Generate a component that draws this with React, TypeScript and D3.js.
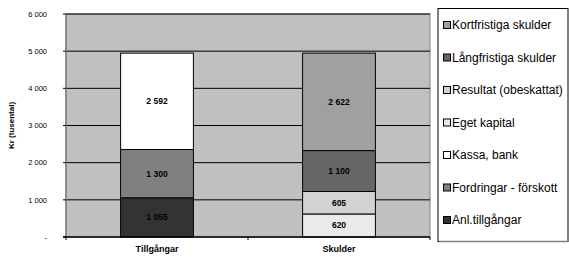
import React from "react";
import * as d3 from "d3";

const categories = ["Tillgångar", "Skulder"];
const seriesNames = [
  "Anl.tillgångar",
  "Fordringar - förskott",
  "Kassa, bank",
  "Eget kapital",
  "Resultat (obeskattat)",
  "Långfristiga skulder",
  "Kortfristiga skulder",
];
const tillgangarValues = [1055, 1300, 2592, 0, 0, 0, 0];
const skulderValues = [0, 0, 0, 620, 605, 1100, 2622];
const seriesColors = ["#333333", "#808080", "#FFFFFF", "#EAEAEA", "#D2D2D2", "#666666", "#A0A0A0"];
const yTicks = [0, 1000, 2000, 3000, 4000, 5000, 6000];

const W = 569, H = 257;
const plot = { left: 66, right: 430, top: 14, bottom: 237 };
const font = "Liberation Sans, Arial, sans-serif";

export default function App() {
  const x = d3.scaleBand<string>().domain(categories).range([plot.left, plot.right]).paddingInner(0).paddingOuter(0);
  const y = d3.scaleLinear().domain([0, 6000]).range([plot.bottom, plot.top]);
  const barW = x.bandwidth() * 0.4;
  const fmt = (v: number) => (v === 0 ? "-" : d3.format(",")(v).replace(/,/g, " "));

  const rows = categories.map((c, i) => {
    const vals = i === 0 ? tillgangarValues : skulderValues;
    const o: any = { cat: c };
    seriesNames.forEach((s, j) => (o[s] = vals[j]));
    return o;
  });
  const stacked = d3.stack<any>().keys(seriesNames)(rows);

  const legendOrder = [...seriesNames].reverse();

  return (
    <svg width={W} height={H} style={{ position: "absolute", left: 0, top: 0, background: "#fff" }} fontFamily={font}>
      <rect x={plot.left} y={plot.top} width={plot.right - plot.left} height={plot.bottom - plot.top} fill="#C0C0C0" stroke="#808080" strokeWidth={1} />
      {yTicks.slice(1).map((t) => (
        <line key={t} x1={plot.left} x2={plot.right} y1={y(t)} y2={y(t)} stroke="#000" strokeWidth={1} />
      ))}
      {stacked.map((layer, si) =>
        layer.map((d, ci) => {
          const h = y(d[0]) - y(d[1]);
          if (h <= 0) return null;
          const cx = (x(categories[ci]) as number) + x.bandwidth() / 2;
          return (
            <g key={`${si}-${ci}`}>
              <rect x={cx - barW / 2} y={y(d[1])} width={barW} height={h} fill={seriesColors[si]} stroke="#000" strokeWidth={1} />
              <text x={cx} y={(y(d[0]) + y(d[1])) / 2 + 3} textAnchor="middle" fontSize={8.5} fontWeight="bold" fill="#000">
                {fmt(d[1] - d[0])}
              </text>
            </g>
          );
        })
      )}
      <line x1={plot.left} x2={plot.left} y1={plot.top} y2={plot.bottom} stroke="#808080" strokeWidth={1.5} />
      <line x1={plot.left - 3} x2={plot.right} y1={plot.bottom} y2={plot.bottom} stroke="#000" strokeWidth={1.5} />
      {yTicks.map((t) => (
        <g key={t}>
          <line x1={plot.left - 3} x2={plot.left} y1={y(t)} y2={y(t)} stroke="#000" />
          <text x={plot.left - 19} y={y(t) + 2.8} textAnchor="end" fontSize={7.5} fill="#000">
            {fmt(t)}
          </text>
        </g>
      ))}
      {[plot.left, plot.left + x.bandwidth(), plot.right].map((tx, i) => (
        <line key={i} x1={tx} x2={tx} y1={plot.bottom} y2={plot.bottom + 3} stroke="#000" />
      ))}
      {categories.map((c) => (
        <text key={c} x={(x(c) as number) + x.bandwidth() / 2} y={252} textAnchor="middle" fontSize={9} fontWeight="bold">
          {c}
        </text>
      ))}
      <text transform={`translate(14, ${(plot.top + plot.bottom) / 2}) rotate(-90)`} textAnchor="middle" fontSize={8} fontWeight="bold">
        Kr (tusental)
      </text>
      <rect x={438} y={8.5} width={130} height={233} fill="#fff" stroke="#000" strokeWidth={1} />
      <line x1={439} x2={568} y1={241.5} y2={241.5} stroke="#808080" strokeWidth={1.5} />
      {legendOrder.map((s, i) => {
        const cy = 25 + i * 32.5;
        const col = seriesColors[seriesNames.indexOf(s)];
        return (
          <g key={s}>
            <rect x={443.5} y={cy - 3.5} width={7} height={7} fill={col} stroke="#000" strokeWidth={1} />
            <text x={452} y={cy + 4} fontSize={12} fill="#000">
              {s}
            </text>
          </g>
        );
      })}
    </svg>
  );
}
